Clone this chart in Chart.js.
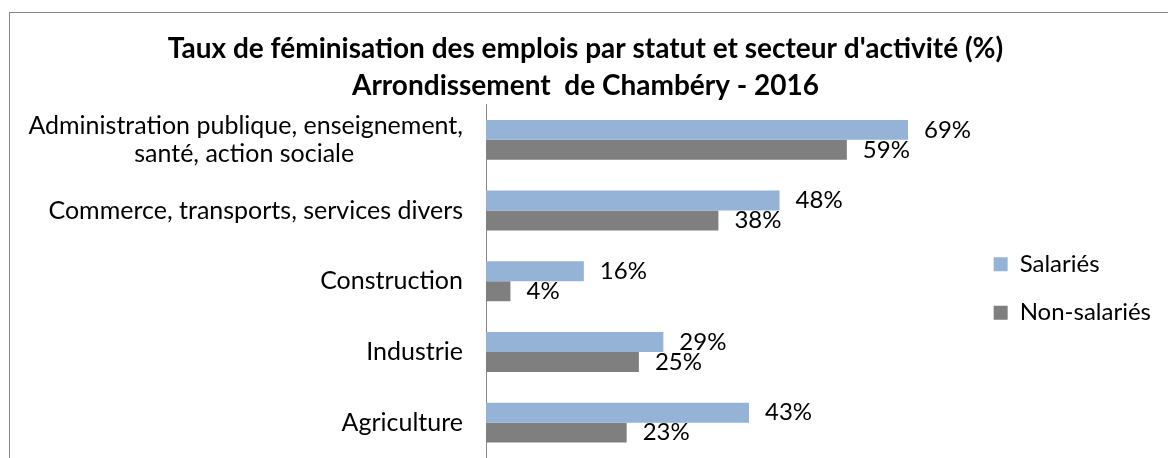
<!DOCTYPE html>
<html>
<head>
<meta charset="utf-8">
<script src="https://cdn.jsdelivr.net/npm/chart.js@4/dist/chart.umd.min.js"></script>
<style>
  html, body { margin: 0; padding: 0; background: #fff; }
  #frame {
    position: absolute; left: 9px; top: 12px; width: 1159px; height: 446px;
    border-left: 1px solid #868686; border-top: 1px solid #868686;
    box-sizing: border-box; overflow: hidden;
  }
  canvas { display: block; }
</style>
</head>
<body>
<div id="frame"><canvas id="chart" width="1158" height="445"></canvas></div>
<script>
const categories = [
    ['Administration publique, enseignement,', 'santé, action sociale'],
    'Commerce, transports, services divers',
    'Construction',
    'Industrie',
    'Agriculture'
];
const salaries = [69, 48, 16, 29, 43];
const nonSalaries = [59, 38, 4, 25, 23];
const seriesNames = ['Salariés', 'Non-salariés'];
const titleLines = [
    "Taux de féminisation des emplois par statut et secteur d'activité (%)",
    'Arrondissement  de Chambéry - 2016'
];

const FONT = 'Lato';
const TICK_SIZE = 25;
const LABEL_SIZE = 24;

Chart.defaults.font.family = FONT;
Chart.defaults.color = '#000';

// excel centres the lines of a wrapped label, chart.js right-aligns them
function centreLines(label) {
    if (!Array.isArray(label)) return label;
    const ctx = document.createElement('canvas').getContext('2d');
    ctx.font = TICK_SIZE + 'px ' + FONT;
    const widest = Math.max(...label.map(l => ctx.measureText(l).width));
    const space = ctx.measureText('\u00a0').width;
    return label.map(l => l + '\u00a0'.repeat(Math.round((widest - ctx.measureText(l).width) / 2 / space)));
}

const barValueLabels = {
    id: 'barValueLabels',
    afterDatasetsDraw(chart) {
        const {ctx} = chart;
        ctx.save();
        ctx.font = LABEL_SIZE + 'px ' + FONT;
        ctx.fillStyle = '#000';
        ctx.textAlign = 'left';
        ctx.textBaseline = 'middle';
        chart.data.datasets.forEach((ds, i) => {
            chart.getDatasetMeta(i).data.forEach((bar, j) => {
                ctx.fillText(ds.data[j] + '%', bar.x + 16, bar.y);
            });
        });
        ctx.restore();
    }
};

// the legend box spans the whole canvas height, push the items down to where excel has them
const legendNudge = {
    id: 'legendNudge',
    afterLayout(chart) {
        chart.legend.top += 53;
        chart.legend.bottom += 53;
    }
};

const data = {
    labels: categories,
    datasets: [
        { label: seriesNames[0], data: salaries, backgroundColor: '#95B3D7' },
        { label: seriesNames[1], data: nonSalaries, backgroundColor: '#7F7F7F' }
    ]
};

const config = {
    type: 'bar',
    data: data,
    plugins: [barValueLabels, legendNudge],
    options: {
        indexAxis: 'y',
        responsive: false,
        animation: false,
        layout: { padding: { left: 0, right: 7, top: 0, bottom: 0 } },
        datasets: {
            bar: { barPercentage: 1, categoryPercentage: 0.565, borderWidth: 0 }
        },
        scales: {
            x: { display: false, min: 0, max: 79 },
            y: {
                grid: { display: false, drawTicks: false },
                border: { display: true, color: '#868686', width: 1 },
                ticks: {
                    padding: 23,
                    color: '#000',
                    font: { size: TICK_SIZE, lineHeight: '28px' },
                    callback: function (value) {
                        return centreLines(this.getLabelForValue(value));
                    }
                },
                afterFit(scale) {
                    scale.width = 476;
                    scale.paddingTop = 0;
                    scale.paddingBottom = 0;
                }
            }
        },
        plugins: {
            title: {
                display: true,
                text: titleLines,
                color: '#000',
                font: { size: 28, weight: 'bold', lineHeight: '37px' },
                padding: { top: 17.5, bottom: 0 }
            },
            legend: {
                position: 'right',
                labels: {
                    boxWidth: 14,
                    boxHeight: 14,
                    padding: 24.5,
                    color: '#000',
                    font: { size: LABEL_SIZE }
                }
            },
            tooltip: { enabled: false }
        }
    }
};

const chart = new Chart(document.getElementById('chart'), config);
</script>
</body>
</html>
